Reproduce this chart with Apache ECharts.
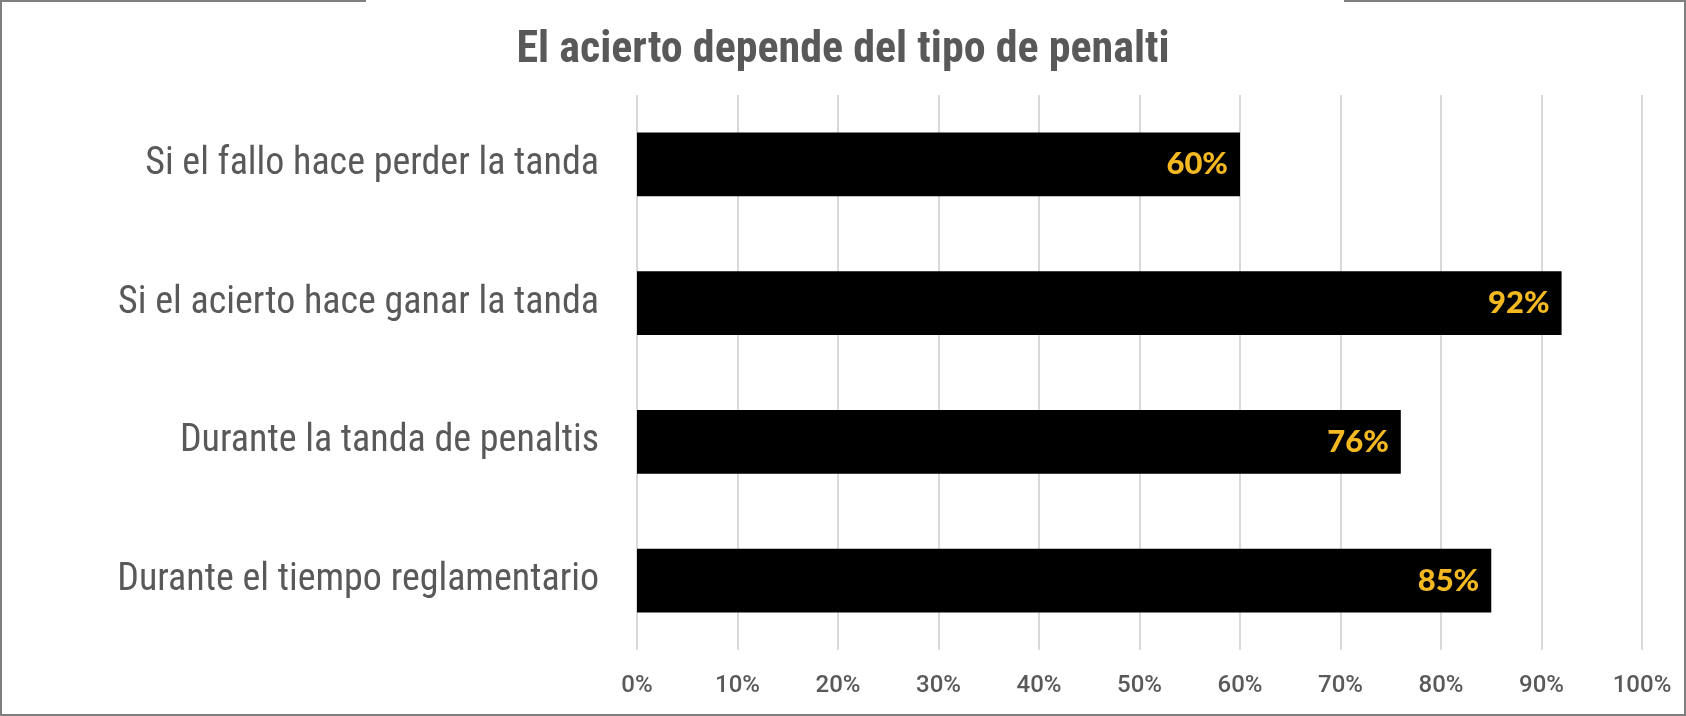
<!DOCTYPE html>
<html>
<head>
<meta charset="utf-8">
<script src="https://cdn.jsdelivr.net/npm/echarts@6/dist/echarts.min.js"></script>
<style>
  html, body { margin: 0; padding: 0; background: #fff; }
  #chart { width: 1686px; height: 716px; }
</style>
</head>
<body>
<div id="chart"></div>
<script>
// datos del gráfico
const titulo = 'El acierto depende del tipo de penalti';
const categorias = [
  'Si el fallo hace perder la tanda',
  'Si el acierto hace ganar la tanda',
  'Durante la tanda de penaltis',
  'Durante el tiempo reglamentario'
];
const acierto = [60, 92, 76, 85];
const ticks = [0, 10, 20, 30, 40, 50, 60, 70, 80, 90, 100];

const condensada = '"Roboto Condensed", "Liberation Sans Narrow", "DejaVu Sans Condensed", sans-serif';
const gris = '#595959';
const marco = '#7f7f7f';

const myChart = echarts.init(document.getElementById('chart'), null, { renderer: 'canvas' });

const option = {
  backgroundColor: '#fff',
  animation: false,
  title: {
    text: titulo,
    left: 'center',
    top: 24,
    textStyle: {
      fontFamily: condensada,
      fontWeight: 'bold',
      fontSize: 44,
      color: gris
    }
  },
  // marco gris, roto arriba donde va el título
  graphic: [
    { type: 'line', shape: { x1: 1, y1: 0, x2: 1, y2: 716 }, style: { stroke: marco, lineWidth: 2 } },
    { type: 'line', shape: { x1: 1685, y1: 0, x2: 1685, y2: 716 }, style: { stroke: marco, lineWidth: 2 } },
    { type: 'line', shape: { x1: 0, y1: 715, x2: 1686, y2: 715 }, style: { stroke: marco, lineWidth: 2 } },
    { type: 'line', shape: { x1: 0, y1: 1, x2: 366, y2: 1 }, style: { stroke: marco, lineWidth: 2 } },
    { type: 'line', shape: { x1: 1344, y1: 1, x2: 1686, y2: 1 }, style: { stroke: marco, lineWidth: 2 } }
  ],
  grid: {
    left: 637,
    right: 44,
    top: 95,
    bottom: 66
  },
  xAxis: {
    type: 'value',
    min: ticks[0],
    max: ticks[ticks.length - 1],
    interval: 10,
    axisLine: { show: false },
    axisTick: { show: false },
    splitLine: { show: true, lineStyle: { color: '#d9d9d9', width: 2 } },
    axisLabel: {
      margin: 24,
      fontFamily: 'Roboto, sans-serif',
      fontWeight: 500,
      fontSize: 24,
      color: gris,
      formatter: v => v + '%'
    }
  },
  yAxis: {
    type: 'category',
    data: categorias,
    inverse: true,
    axisLine: { show: false },
    axisTick: { show: false },
    axisLabel: {
      margin: 38,
      fontFamily: condensada,
      fontSize: 38,
      color: gris
    }
  },
  series: [
    {
      type: 'bar',
      data: acierto,
      barWidth: '46%',
      itemStyle: { color: '#000' },
      label: {
        show: true,
        position: 'insideRight',
        distance: 12,
        formatter: p => p.value + '%',
        fontFamily: 'Lato, "Open Sans", sans-serif',
        fontWeight: 900,
        fontSize: 31,
        color: '#f4b820'
      }
    }
  ]
};

myChart.setOption(option);
</script>
</body>
</html>
